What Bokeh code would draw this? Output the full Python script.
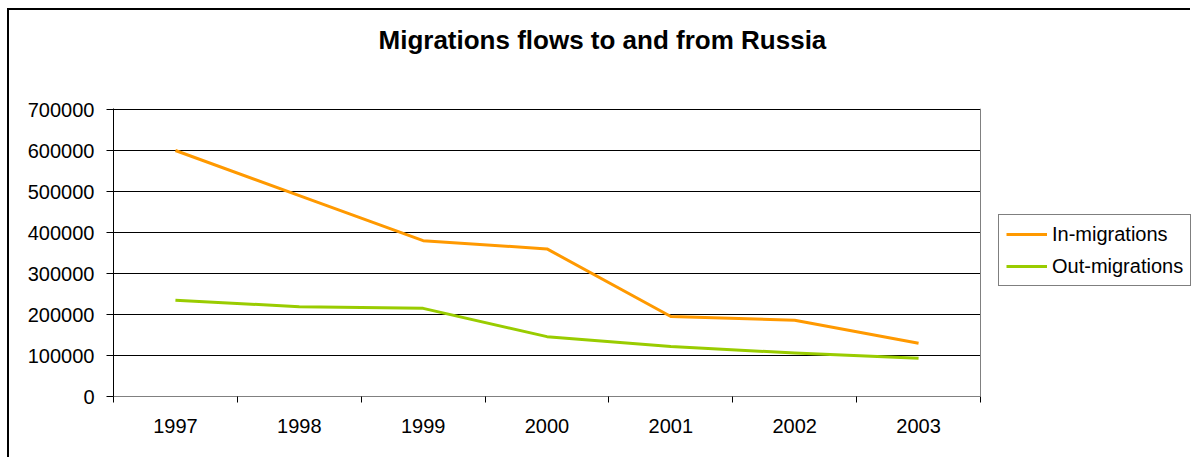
from bokeh.plotting import figure
from bokeh.models import (FixedTicker, Legend, LegendItem, NumeralTickFormatter,
                          Range1d, Span, Title)
from bokeh.embed import file_html
from bokeh.resources import INLINE

# ---- data ----
years = ["1997", "1998", "1999", "2000", "2001", "2002", "2003"]
in_migrations = [600000, 490000, 380000, 360000, 195000, 186000, 130000]
out_migrations = [235000, 219000, 215000, 146000, 122000, 106000, 93000]
y_ticks = [0, 100000, 200000, 300000, 400000, 500000, 600000, 700000]

FONT = "Liberation Sans"

# layout (pixels)
FIG_W, FIG_H = 1183, 449
LEFT, RIGHT, TOP, BOTTOM = 104, 0, 98, 63
AREA_W = 867           # width of the plotted area (categories)
AREA_H = 287           # height of the plotted area (0..700000)
frame_w = FIG_W - LEFT - RIGHT
frame_h = FIG_H - TOP - BOTTOM

n = len(years)
xs = [i + 0.5 for i in range(n)]          # category centres
boundaries = list(range(n + 1))            # category boundaries (tick marks)
y_max = max(y_ticks)

p = figure(width=FIG_W, height=FIG_H, output_backend="svg", toolbar_location=None,
           x_range=Range1d(0, n * frame_w / AREA_W),
           y_range=Range1d(0, y_max * frame_h / AREA_H),
           min_border_left=LEFT, min_border_right=RIGHT, min_border_top=TOP,
           min_border_bottom=BOTTOM)
p.styles = {"margin-left": "7px", "margin-top": "8px",
            "border-left": "2px solid black", "border-top": "2px solid black"}
p.outline_line_color = None

# main title (outermost)
p.title.text = "Migrations flows to and from Russia"
p.title.align = "left"
p.title.offset = 265
p.title.standoff = 2
p.title.text_font = FONT
p.title.text_font_size = "26px"
p.title.text_font_style = "bold"
p.title.text_color = "black"

# blank white spacer (innermost) between the plot area and the title
spacer = Title(text=".", text_font_size="2px", text_color="white", standoff=50)
p.add_layout(spacer, "above")

# grid
p.xgrid.visible = False
p.ygrid.ticker = FixedTicker(ticks=y_ticks)
p.ygrid.grid_line_color = "#000000"
p.ygrid.grid_line_width = 1
p.ygrid.cross_bounds = (0, n)

# right border of the plot area
p.add_layout(Span(location=n, dimension="height", line_color="#808080", line_width=1))

# y axis
p.yaxis.ticker = FixedTicker(ticks=y_ticks)
p.yaxis.formatter = NumeralTickFormatter(format="0")
p.yaxis.major_tick_out = 7
p.yaxis.major_tick_in = 0
p.yaxis.minor_tick_out = 0
p.yaxis.minor_tick_in = 0
p.yaxis.axis_line_color = "#000000"
p.yaxis.major_tick_line_color = "#000000"
p.yaxis.major_label_text_font = FONT
p.yaxis.major_label_text_font_size = "20px"
p.yaxis.major_label_text_color = "black"
p.yaxis.major_label_standoff = 12

# x axis
p.xaxis.ticker = FixedTicker(ticks=xs, minor_ticks=boundaries)
p.xaxis.major_label_overrides = {x: y for x, y in zip(xs, years)}
p.xaxis.bounds = (0, n)
p.xaxis.major_tick_out = 0
p.xaxis.major_tick_in = 0
p.xaxis.minor_tick_out = 6
p.xaxis.minor_tick_in = 0
p.xaxis.minor_tick_line_color = "#000000"
p.xaxis.axis_line_color = "#808080"
p.xaxis.major_label_text_font = FONT
p.xaxis.major_label_text_font_size = "20px"
p.xaxis.major_label_text_color = "black"
p.xaxis.major_label_standoff = 16

r_in = p.line(xs, in_migrations, line_color="#FF9900", line_width=3, line_join="round")
r_out = p.line(xs, out_migrations, line_color="#99CC00", line_width=3, line_join="round")

legend = Legend(items=[LegendItem(label="In-migrations", renderers=[r_in]),
                       LegendItem(label="Out-migrations", renderers=[r_out])],
                location=(885, 110))
legend.border_line_color = "black"
legend.border_line_width = 1
legend.background_fill_color = "white"
legend.background_fill_alpha = 1
legend.label_text_font = FONT
legend.label_text_font_size = "20px"
legend.label_text_color = "black"
legend.glyph_width = 41
legend.glyph_height = 24
legend.label_height = 24
legend.label_standoff = 5
legend.padding = 7
legend.spacing = 8
legend.margin = 0
p.add_layout(legend, "center")

open("out.html", "w").write(file_html(p, INLINE))
